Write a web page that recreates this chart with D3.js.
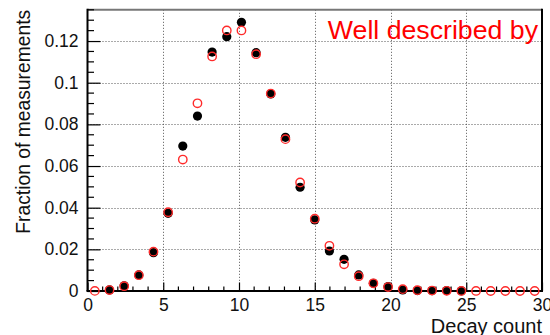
<!DOCTYPE html>
<html><head><meta charset="utf-8">
<script src="https://cdn.jsdelivr.net/npm/d3@7"></script>
<style>body{margin:0;background:#fff;}svg{display:block;}</style>
</head><body>
<svg id="c" width="550" height="335"></svg>
<script>
const nBins = 31;
const xMax = 30;
const binIndex = d3.range(0, 31);
const measured = [null, 0.0005, 0.0025, 0.0077, 0.0184, 0.0373, 0.0696, 0.0840, 0.1147, 0.1221,
  0.1290, 0.1144, 0.0946, 0.0738, 0.0498, 0.0341, 0.0192, 0.0152, 0.0077, 0.0037,
  0.0021, 0.0005, 0.0002, 0.0002, 0.0002, 0.0001, null, null, null, null, null];
const expected = [0.00005, 0.00045, 0.0023, 0.0076, 0.0189, 0.0378, 0.0631, 0.0901, 0.1126, 0.1251,
  0.1251, 0.1137, 0.0948, 0.0729, 0.0521, 0.0347, 0.0217, 0.0128, 0.0071, 0.0037,
  0.0019, 0.0009, 0.0004, 0.0002, 0.0001, 0.00004, 0.00002, 0.00001, 0.0, 0.0, 0.0];
const yTicks = [0, 0.02, 0.04, 0.06, 0.08, 0.1, 0.12];
const yTickLabels = ["0", "0.02", "0.04", "0.06", "0.08", "0.1", "0.12"];
const xTicks = [0, 5, 10, 15, 20, 25, 30];

const svg = d3.select("#c");
const L = 87.5, R = 542, T = 9.8, B = 291;
const x = d3.scaleLinear().domain([0, xMax]).range([L, R]);
const y = d3.scaleLinear().domain([0, 0.135]).range([B, T]);
const binW = xMax / nBins;
const cx = i => x((i + 0.5) * binW);

// grid
const grid = svg.append("g").attr("stroke", "#555").attr("stroke-width", 1).attr("stroke-dasharray", "1,2");
xTicks.filter(t => t > 0 && t < 30).forEach(t => {
  grid.append("line").attr("x1", Math.round(x(t)) + 0.5).attr("x2", Math.round(x(t)) + 0.5).attr("y1", T).attr("y2", B);
});
yTicks.filter(t => t > 0).forEach(t => {
  grid.append("line").attr("y1", Math.round(y(t)) + 0.5).attr("y2", Math.round(y(t)) + 0.5).attr("x1", L).attr("x2", R);
});

// frame
svg.append("line").attr("x1", L).attr("x2", R).attr("y1", T).attr("y2", T).attr("stroke", "#777").attr("stroke-width", 2);
svg.append("line").attr("x1", R).attr("x2", R).attr("y1", T - 1).attr("y2", B).attr("stroke", "#000").attr("stroke-width", 2);

// axes
const yAxis = d3.axisLeft(y).tickValues(yTicks).tickFormat((d, i) => yTickLabels[i]).tickSize(-13).tickPadding(22);
const gy = svg.append("g").attr("transform", `translate(${L},0)`).call(yAxis);
gy.select(".domain").attr("stroke-width", 2).attr("d", `M0,${T - 1}V${B}`);
gy.selectAll(".tick line").attr("stroke-width", 1.2);
gy.selectAll("text").attr("font-family", "Liberation Sans, Arial, sans-serif").attr("font-size", 17.5).attr("fill", "#111").attr("x", -9);
const yMinor = d3.range(0, 0.1351, 0.005).filter(v => !yTicks.some(t => Math.abs(t - v) < 1e-9));
svg.append("g").selectAll("line").data(yMinor).join("line")
  .attr("x1", L).attr("x2", L + 6.5).attr("y1", d => y(d)).attr("y2", d => y(d)).attr("stroke", "#000").attr("stroke-width", 1.2);

const xAxis = d3.axisBottom(x).tickValues(xTicks).tickSize(-8.5).tickPadding(4);
const gx = svg.append("g").attr("transform", `translate(0,${B})`).call(xAxis);
gx.select(".domain").attr("stroke-width", 2).attr("d", `M${L - 1},0H${R + 1}`);
gx.selectAll(".tick line").attr("stroke-width", 1.2);
gx.selectAll("text").attr("font-family", "Liberation Sans, Arial, sans-serif").attr("font-size", 17.5).attr("fill", "#111").attr("y", 8).attr("dy", "0.71em");
const xMinor = d3.range(0, 31).filter(v => v % 5 !== 0);
svg.append("g").selectAll("line").data(xMinor).join("line")
  .attr("x1", d => x(d)).attr("x2", d => x(d)).attr("y1", B).attr("y2", B - 4.5).attr("stroke", "#000").attr("stroke-width", 1.2);

// titles
svg.append("text").attr("transform", `translate(30,${T}) rotate(-90)`).attr("text-anchor", "end")
  .attr("font-family", "Liberation Sans, Arial, sans-serif").attr("font-size", 19.3).attr("fill", "#111").text("Fraction of measurements");
svg.append("text").attr("x", R).attr("y", 333).attr("text-anchor", "end")
  .attr("font-family", "Liberation Sans, Arial, sans-serif").attr("font-size", 20).attr("fill", "#111").text("Decay count");

// data
svg.append("g").selectAll("circle").data(binIndex.filter(i => measured[i] !== null)).join("circle")
  .attr("cx", cx).attr("cy", i => y(measured[i])).attr("r", 4.6).attr("fill", "#000");
svg.append("g").selectAll("circle").data(binIndex).join("circle")
  .attr("cx", cx).attr("cy", i => y(expected[i])).attr("r", 4.2).attr("fill", "none").attr("stroke", "#ff2a2a").attr("stroke-width", 1.4);

// annotation
svg.append("text").attr("x", 538).attr("y", 38.5).attr("text-anchor", "end")
  .attr("font-family", "Liberation Sans, Arial, sans-serif").attr("font-size", 26.7).attr("fill", "#ff0000").text("Well described by");
</script>
</body></html>
